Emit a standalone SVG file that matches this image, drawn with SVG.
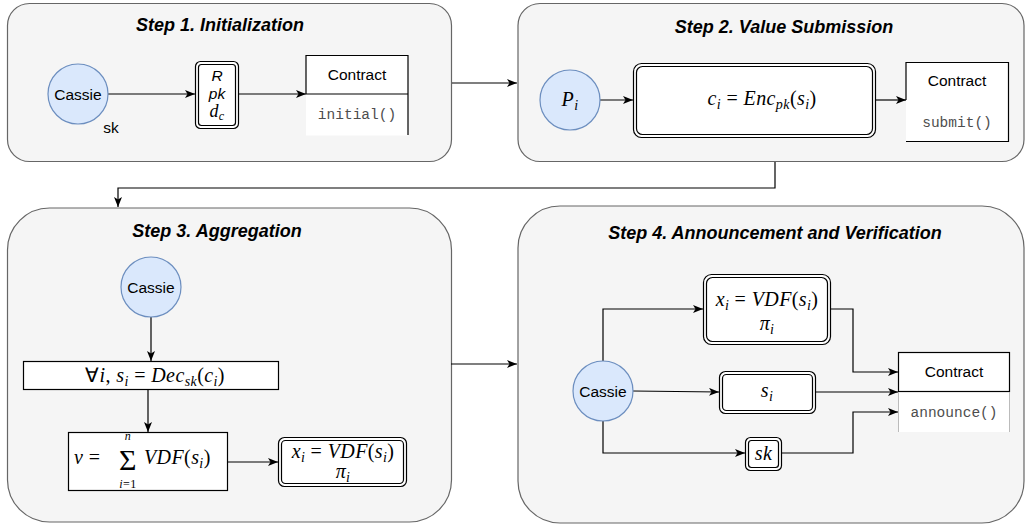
<svg xmlns="http://www.w3.org/2000/svg" width="1026" height="527" viewBox="0 0 1026 527">
<defs>
<marker id="arr" markerWidth="10" markerHeight="8" refX="10" refY="4" orient="auto" markerUnits="userSpaceOnUse">
<path d="M0,0 L10,4 L0,8 L2.5,4 z" fill="#000"/>
</marker>
<style>
.cont{fill:#f5f5f5;stroke:#666;stroke-width:1.2}
.title{font-family:"Liberation Sans",Arial,sans-serif;font-weight:bold;font-style:italic;font-size:18px;text-anchor:middle;fill:#000}
.actor{fill:#dae8fc;stroke:#6c8ebf;stroke-width:1.2}
.lbl{font-family:"Liberation Sans",Arial,sans-serif;font-size:15.5px;fill:#000}
.mid{text-anchor:middle}
.box{fill:#fff;stroke:#000;stroke-width:1.2}
.dbl{fill:none;stroke:#000;stroke-width:1.2}
.mono{font-family:"Liberation Mono","Courier New",monospace;font-size:14.5px;fill:#4d4d4d;text-anchor:middle}
.math{font-family:"Liberation Serif","Times New Roman",serif;font-size:20px;fill:#000;letter-spacing:0.4px}
.it{font-style:italic}
.edge{fill:none;stroke:#000;stroke-width:1.2;marker-end:url(#arr)}
</style>
</defs>

<g id="step1">
<rect class="cont" x="7.5" y="3.5" width="444" height="158" rx="22"/>
<text class="title" x="220" y="31">Step 1. Initialization</text>
</g>
<g id="step2">
<rect class="cont" x="518" y="3.5" width="506" height="158" rx="22"/>
<text class="title" x="784" y="33">Step 2. Value Submission</text>
</g>
<g id="step3">
<rect class="cont" x="7.5" y="208" width="444" height="314" rx="42"/>
<text class="title" x="217" y="237">Step 3. Aggregation</text>
</g>
<g id="step4">
<rect class="cont" x="518" y="206" width="506" height="317" rx="42"/>
<text class="title" x="775" y="239">Step 4. Announcement and Verification</text>
</g>

<g id="connectors">
<path class="edge" d="M108,94 H195"/>
<path class="edge" d="M239,94 H306"/>
<path class="edge" d="M452,83 H517"/>
<path class="edge" d="M600,100 H633"/>
<path class="edge" d="M876,100 H906"/>
<path class="edge" d="M775,162 V188 H118 V207"/>
<path class="edge" d="M151,317 V361"/>
<path class="edge" d="M148,389 V432"/>
<path class="edge" d="M228,462 H278"/>
<path class="edge" d="M451,364 H517"/>
<path class="edge" d="M603,361 V309 H703"/>
<path class="edge" d="M633,391 L719,392"/>
<path class="edge" d="M603,421 V453 H745"/>
<path class="edge" d="M830,309 H853 V372 H898"/>
<path class="edge" d="M815,392 H898"/>
<path class="edge" d="M782,453 H853 V412 H898"/>
</g>

<g id="cassie1">
<circle class="actor" cx="78" cy="94" r="30"/>
<text class="lbl mid" x="78" y="99.5">Cassie</text>
<text class="lbl mid" x="111" y="133">sk</text>
</g>
<g id="params1">
<rect x="195.5" y="61.5" width="43" height="67" rx="5" class="box"/>
<rect class="dbl" x="198.5" y="64.5" width="37" height="61" rx="3"/>
<text class="lbl mid" x="217" y="81" font-style="italic">R</text>
<text class="lbl mid" x="217" y="99" font-style="italic">pk</text>
<text class="math mid" x="217" y="117" style="font-size:18px"><tspan class="it">d</tspan><tspan class="it" font-size="12" dy="3">c</tspan></text>
</g>
<g id="contract1">
<rect x="306" y="55.5" width="102" height="80" fill="#fff"/>
<path d="M306,94 V55.5 H408 V135" class="dbl"/>
<path d="M306,94 H408" class="dbl"/>
<text class="lbl mid" x="357" y="80">Contract</text>
<text class="mono" x="357" y="119">initial()</text>
</g>

<g id="pi">
<circle class="actor" cx="570" cy="100" r="30"/>
<text class="math mid" x="570" y="106"><tspan class="it">P</tspan><tspan class="it" font-size="14" dy="4">i</tspan></text>
</g>
<g id="enc">
<rect x="633.5" y="63.5" width="242" height="74" rx="8" class="box"/>
<rect x="636.5" y="66.5" width="236" height="68" rx="6" class="dbl"/>
<text class="math mid" x="762" y="105"><tspan class="it">c</tspan><tspan class="it" font-size="14" dy="4">i</tspan><tspan dy="-4"> = </tspan><tspan class="it">Enc</tspan><tspan class="it" font-size="14" dy="4">pk</tspan><tspan dy="-4">(</tspan><tspan class="it">s</tspan><tspan class="it" font-size="14" dy="4">i</tspan><tspan dy="-4">)</tspan></text>
</g>
<g id="contract2">
<rect x="906" y="62" width="103" height="80" fill="#fff"/>
<path d="M906,100 V62.5 H1008.5 V141.5 H906" class="dbl"/>
<text class="lbl mid" x="957" y="86">Contract</text>
<text class="mono" x="957" y="127">submit()</text>
</g>

<g id="cassie3">
<circle class="actor" cx="151" cy="287" r="30"/>
<text class="lbl mid" x="151" y="292.5">Cassie</text>
</g>
<g id="dec">
<rect class="box" x="23.5" y="361.5" width="255" height="28"/>
<text class="math mid" x="155" y="382"><tspan>∀</tspan><tspan class="it">i</tspan><tspan>, </tspan><tspan class="it">s</tspan><tspan class="it" font-size="14" dy="4">i</tspan><tspan dy="-4"> = </tspan><tspan class="it">Dec</tspan><tspan class="it" font-size="14" dy="4">sk</tspan><tspan dy="-4">(</tspan><tspan class="it">c</tspan><tspan class="it" font-size="14" dy="4">i</tspan><tspan dy="-4">)</tspan></text>
</g>
<g id="sum">
<rect class="box" x="68.5" y="432.5" width="159" height="58"/>
<text class="math" x="74" y="464"><tspan class="it">v</tspan><tspan> = </tspan></text>
<text class="math mid" x="128" y="470" style="font-size:30px">Σ</text>
<text class="math mid it" x="128" y="440" style="font-size:12px">n</text>
<text class="math mid" x="128" y="488" style="font-size:12px"><tspan class="it">i</tspan>=1</text>
<text class="math" x="144" y="464"><tspan class="it">VDF</tspan><tspan>(</tspan><tspan class="it">s</tspan><tspan class="it" font-size="14" dy="4">i</tspan><tspan dy="-4">)</tspan></text>
</g>
<g id="xi3">
<rect class="box" x="278.5" y="437.5" width="128" height="49" rx="6"/>
<rect class="dbl" x="281.5" y="440.5" width="122" height="43" rx="4"/>
<text class="math mid" x="343" y="458"><tspan class="it">x</tspan><tspan class="it" font-size="14" dy="4">i</tspan><tspan dy="-4"> = </tspan><tspan class="it">VDF</tspan><tspan>(</tspan><tspan class="it">s</tspan><tspan class="it" font-size="14" dy="4">i</tspan><tspan dy="-4">)</tspan></text>
<text class="math mid" x="343" y="478"><tspan class="it">π</tspan><tspan class="it" font-size="14" dy="4">i</tspan></text>
</g>

<g id="cassie4">
<circle class="actor" cx="603" cy="391" r="30"/>
<text class="lbl mid" x="603" y="396.5">Cassie</text>
</g>
<g id="xi4">
<rect class="box" x="703.5" y="274.5" width="127" height="70" rx="8"/>
<rect class="dbl" x="706.5" y="277.5" width="121" height="64" rx="6"/>
<text class="math mid" x="767" y="306"><tspan class="it">x</tspan><tspan class="it" font-size="14" dy="4">i</tspan><tspan dy="-4"> = </tspan><tspan class="it">VDF</tspan><tspan>(</tspan><tspan class="it">s</tspan><tspan class="it" font-size="14" dy="4">i</tspan><tspan dy="-4">)</tspan></text>
<text class="math mid" x="767" y="330"><tspan class="it">π</tspan><tspan class="it" font-size="14" dy="4">i</tspan></text>
</g>
<g id="si4">
<rect class="box" x="719.5" y="371.5" width="96" height="42" rx="6"/>
<rect class="dbl" x="722.5" y="374.5" width="90" height="36" rx="4"/>
<text class="math mid" x="767" y="397"><tspan class="it">s</tspan><tspan class="it" font-size="14" dy="4">i</tspan></text>
</g>
<g id="sk4">
<rect class="box" x="745.5" y="437.5" width="36" height="33" rx="5"/>
<rect class="dbl" x="748.5" y="440.5" width="30" height="27" rx="3"/>
<text class="math mid it" x="763.5" y="460">sk</text>
</g>
<g id="contract4">
<rect x="898" y="352" width="112" height="80" fill="#fff"/>
<rect class="dbl" x="898.5" y="352.5" width="111" height="39"/>
<path d="M898.5,392 V432 M1009.5,392 V432" stroke="#bbb" stroke-width="1" fill="none"/>
<text class="lbl mid" x="954" y="377">Contract</text>
<text class="mono" x="954" y="417">announce()</text>
</g>
</svg>
